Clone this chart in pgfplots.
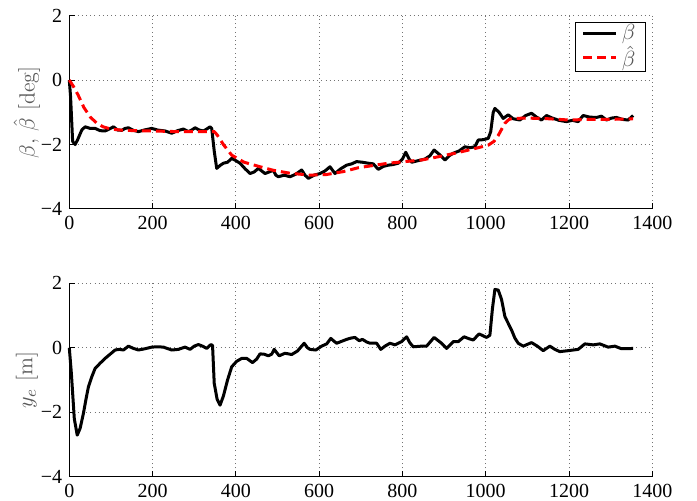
\documentclass[border=0pt]{standalone}
\usepackage{pgfplots}
\pgfplotsset{compat=1.18}
\usepackage{fontspec}
\newfontfamily\timesfont{Liberation Serif}

\pgfplotsset{
  matlab/.style={
    scale only axis,
    width=291.5pt, height=96.7pt,
    xmin=0, xmax=1400, ymin=-4, ymax=2,
    axis x line*=bottom, axis y line*=left,
    axis line style={black, line width=0.5pt, -},
    tick align=inside, major tick length=3pt,
    tick style={black, line width=0.5pt},
    xtick={0,200,...,1400},
    xticklabels={0,200,400,600,800,1000,1200,1400},
    ytick={-4,-2,0,2},
    yticklabels={−4,−2,0,2},
    ticklabel style={font=\timesfont\fontsize{10}{12}\selectfont},
    grid=major,
    major grid style={black!55, line width=0.5pt, dash pattern=on 0.5pt off 1.6pt},
    every axis y label/.style={at={(axis description cs:-0.0726,0.5)}, rotate=90, anchor=center,
      font=\fontsize{11}{13}\selectfont, text=black!65},
    clip=false,
  },
}

\begin{document}
\begin{tikzpicture}
\useasboundingbox (-34.65pt,-146pt) rectangle (313.85pt,104.5pt);

% upper plot: sideslip angle and its estimate
\begin{axis}[matlab, at={(0pt,0pt)}, anchor=south west,
  ylabel={$\beta$, $\hat{\beta}$ [deg]},
  legend style={at={(0.989,0.967)}, anchor=north east, draw=black, line width=0.5pt,
    font=\fontsize{10.5}{12}\selectfont, text=black!65, inner xsep=3pt, inner ysep=0.5pt,
    row sep=1.2pt, fill=white,
    nodes={inner ysep=0.3pt, inner xsep=2pt}},
  legend cell align=left,
  legend image code/.code={\draw[#1] (0pt,0pt) -- (16.5pt,0pt);},
]
\addplot[black, line width=1.5pt, line join=round] coordinates {
(0,0) (3,-0.5) (8,-1.9) (14,-2.0) (20,-1.85) (30,-1.55) (38,-1.45) (50,-1.5)
(62,-1.5) (74,-1.57) (86,-1.58) (96,-1.52) (106,-1.45) (116,-1.55) (126,-1.56)
(134,-1.5) (142,-1.48) (154,-1.56) (166,-1.6) (180,-1.55) (198,-1.5) (212,-1.55)
(230,-1.58) (246,-1.65) (260,-1.57) (274,-1.52) (286,-1.6) (294,-1.55) (302,-1.48)
(312,-1.55) (322,-1.58) (330,-1.52) (338,-1.45) (342,-1.5) (348,-2.2) (354,-2.74)
(362,-2.65) (370,-2.58) (380,-2.55) (390,-2.43) (400,-2.5) (410,-2.58) (422,-2.75)
(434,-2.9) (444,-2.85) (454,-2.74) (462,-2.82) (470,-2.9) (480,-2.85) (490,-2.8)
(496,-2.95) (502,-3.0) (516,-2.95) (530,-3.0) (544,-2.92) (558,-2.79) (566,-2.95)
(574,-3.05) (588,-2.95) (602,-2.9) (614,-2.82) (626,-2.69) (638,-2.9) (652,-2.75)
(666,-2.64) (678,-2.6) (690,-2.53) (704,-2.55) (718,-2.58) (730,-2.6) (742,-2.77)
(754,-2.68) (766,-2.64) (778,-2.62) (790,-2.58) (800,-2.45) (808,-2.24) (816,-2.45)
(822,-2.55) (838,-2.5) (854,-2.45) (866,-2.35) (876,-2.17) (888,-2.3) (902,-2.48)
(912,-2.35) (922,-2.27) (936,-2.2) (950,-2.07) (962,-2.1) (974,-2.07) (982,-1.86)
(994,-1.85) (1006,-1.81) (1012,-1.6) (1018,-1.0) (1022,-0.88) (1032,-1.0)
(1042,-1.19) (1054,-1.08) (1066,-1.2) (1082,-1.24) (1096,-1.1) (1110,-1.03)
(1122,-1.15) (1134,-1.24) (1146,-1.1) (1160,-1.18) (1176,-1.25) (1194,-1.29)
(1208,-1.25) (1222,-1.29) (1234,-1.1) (1250,-1.15) (1266,-1.16) (1278,-1.12)
(1290,-1.24) (1302,-1.18) (1314,-1.16) (1328,-1.22) (1342,-1.24) (1354,-1.1)
};
\addlegendentry{$\beta$}
\addplot[red, line width=1.5pt, dash pattern=on 4.5pt off 2.5pt] coordinates {
(0,0) (10,-0.2) (21,-0.46) (35,-0.85) (50,-1.14) (65,-1.33) (81,-1.45) (100,-1.52)
(130,-1.56) (200,-1.58) (260,-1.6) (300,-1.6) (343,-1.6) (348,-1.6) (355,-1.7)
(370,-2.0) (390,-2.33) (420,-2.55) (458,-2.69) (490,-2.8) (530,-2.89) (578,-2.95)
(618,-2.93) (658,-2.84) (694,-2.72) (730,-2.65) (766,-2.58) (806,-2.53) (846,-2.48)
(886,-2.38) (926,-2.27) (966,-2.15) (1006,-2.02) (1020,-1.9) (1030,-1.72)
(1046,-1.34) (1056,-1.22) (1066,-1.19) (1100,-1.18) (1150,-1.2) (1200,-1.24)
(1250,-1.22) (1300,-1.22) (1354,-1.2)
};
\addlegendentry{$\hat{\beta}$}
\end{axis}

% lower plot: lateral error
\begin{axis}[matlab, at={(0pt,-133.85pt)}, anchor=south west,
  ylabel={$y_e$ [m]},
]
\addplot[black, line width=1.5pt, line join=round] coordinates {
(0,0) (5,-0.8) (12,-2.2) (19,-2.71) (26,-2.5) (34,-2.03) (40,-1.6) (46,-1.21)
(54,-0.9) (62,-0.64) (74,-0.48) (86,-0.33) (98,-0.2) (110,-0.07) (120,-0.05)
(130,-0.07) (142,0.05) (154,-0.02) (166,-0.07) (182,-0.03) (198,0.02) (212,0.03)
(226,0.02) (246,-0.07) (262,-0.05) (278,0.02) (290,-0.05) (300,0.05) (310,0.1)
(320,0.05) (330,-0.02) (340,0.1) (344,0.07) (348,-1.1) (355,-1.6) (362,-1.78)
(370,-1.5) (380,-1.0) (390,-0.59) (402,-0.42) (414,-0.33) (426,-0.33) (440,-0.46)
(450,-0.35) (458,-0.19) (468,-0.2) (478,-0.25) (486,-0.2) (492,-0.05) (498,-0.15)
(504,-0.25) (518,-0.17) (534,-0.21) (548,-0.1) (558,0.05) (564,0.14) (572,0.0)
(578,-0.05) (592,-0.07) (606,0.05) (618,0.12) (628,0.29) (636,0.2) (642,0.14)
(654,0.2) (666,0.26) (676,0.3) (686,0.32) (696,0.22) (704,0.26) (714,0.18)
(722,0.14) (738,0.14) (748,-0.05) (758,0.05) (770,0.14) (782,0.09) (798,0.19)
(810,0.34) (818,0.15) (826,0.03) (846,0.05) (858,0.05) (868,0.2) (876,0.32)
(892,0.16) (906,-0.02) (922,0.19) (934,0.19) (948,0.34) (960,0.28) (970,0.24)
(984,0.43) (1002,0.32) (1010,0.39) (1016,1.2) (1022,1.81) (1030,1.79) (1038,1.5)
(1046,0.97) (1052,0.81) (1062,0.55) (1070,0.3) (1078,0.14) (1090,0.05) (1110,0.16)
(1124,0.05) (1138,-0.09) (1154,0.05) (1166,-0.05) (1178,-0.12) (1198,-0.09)
(1222,-0.05) (1238,0.12) (1258,0.09) (1274,0.12) (1294,0.02) (1310,0.05)
(1326,-0.03) (1340,-0.03) (1354,-0.02)
};
\end{axis}
\end{tikzpicture}
\end{document}
